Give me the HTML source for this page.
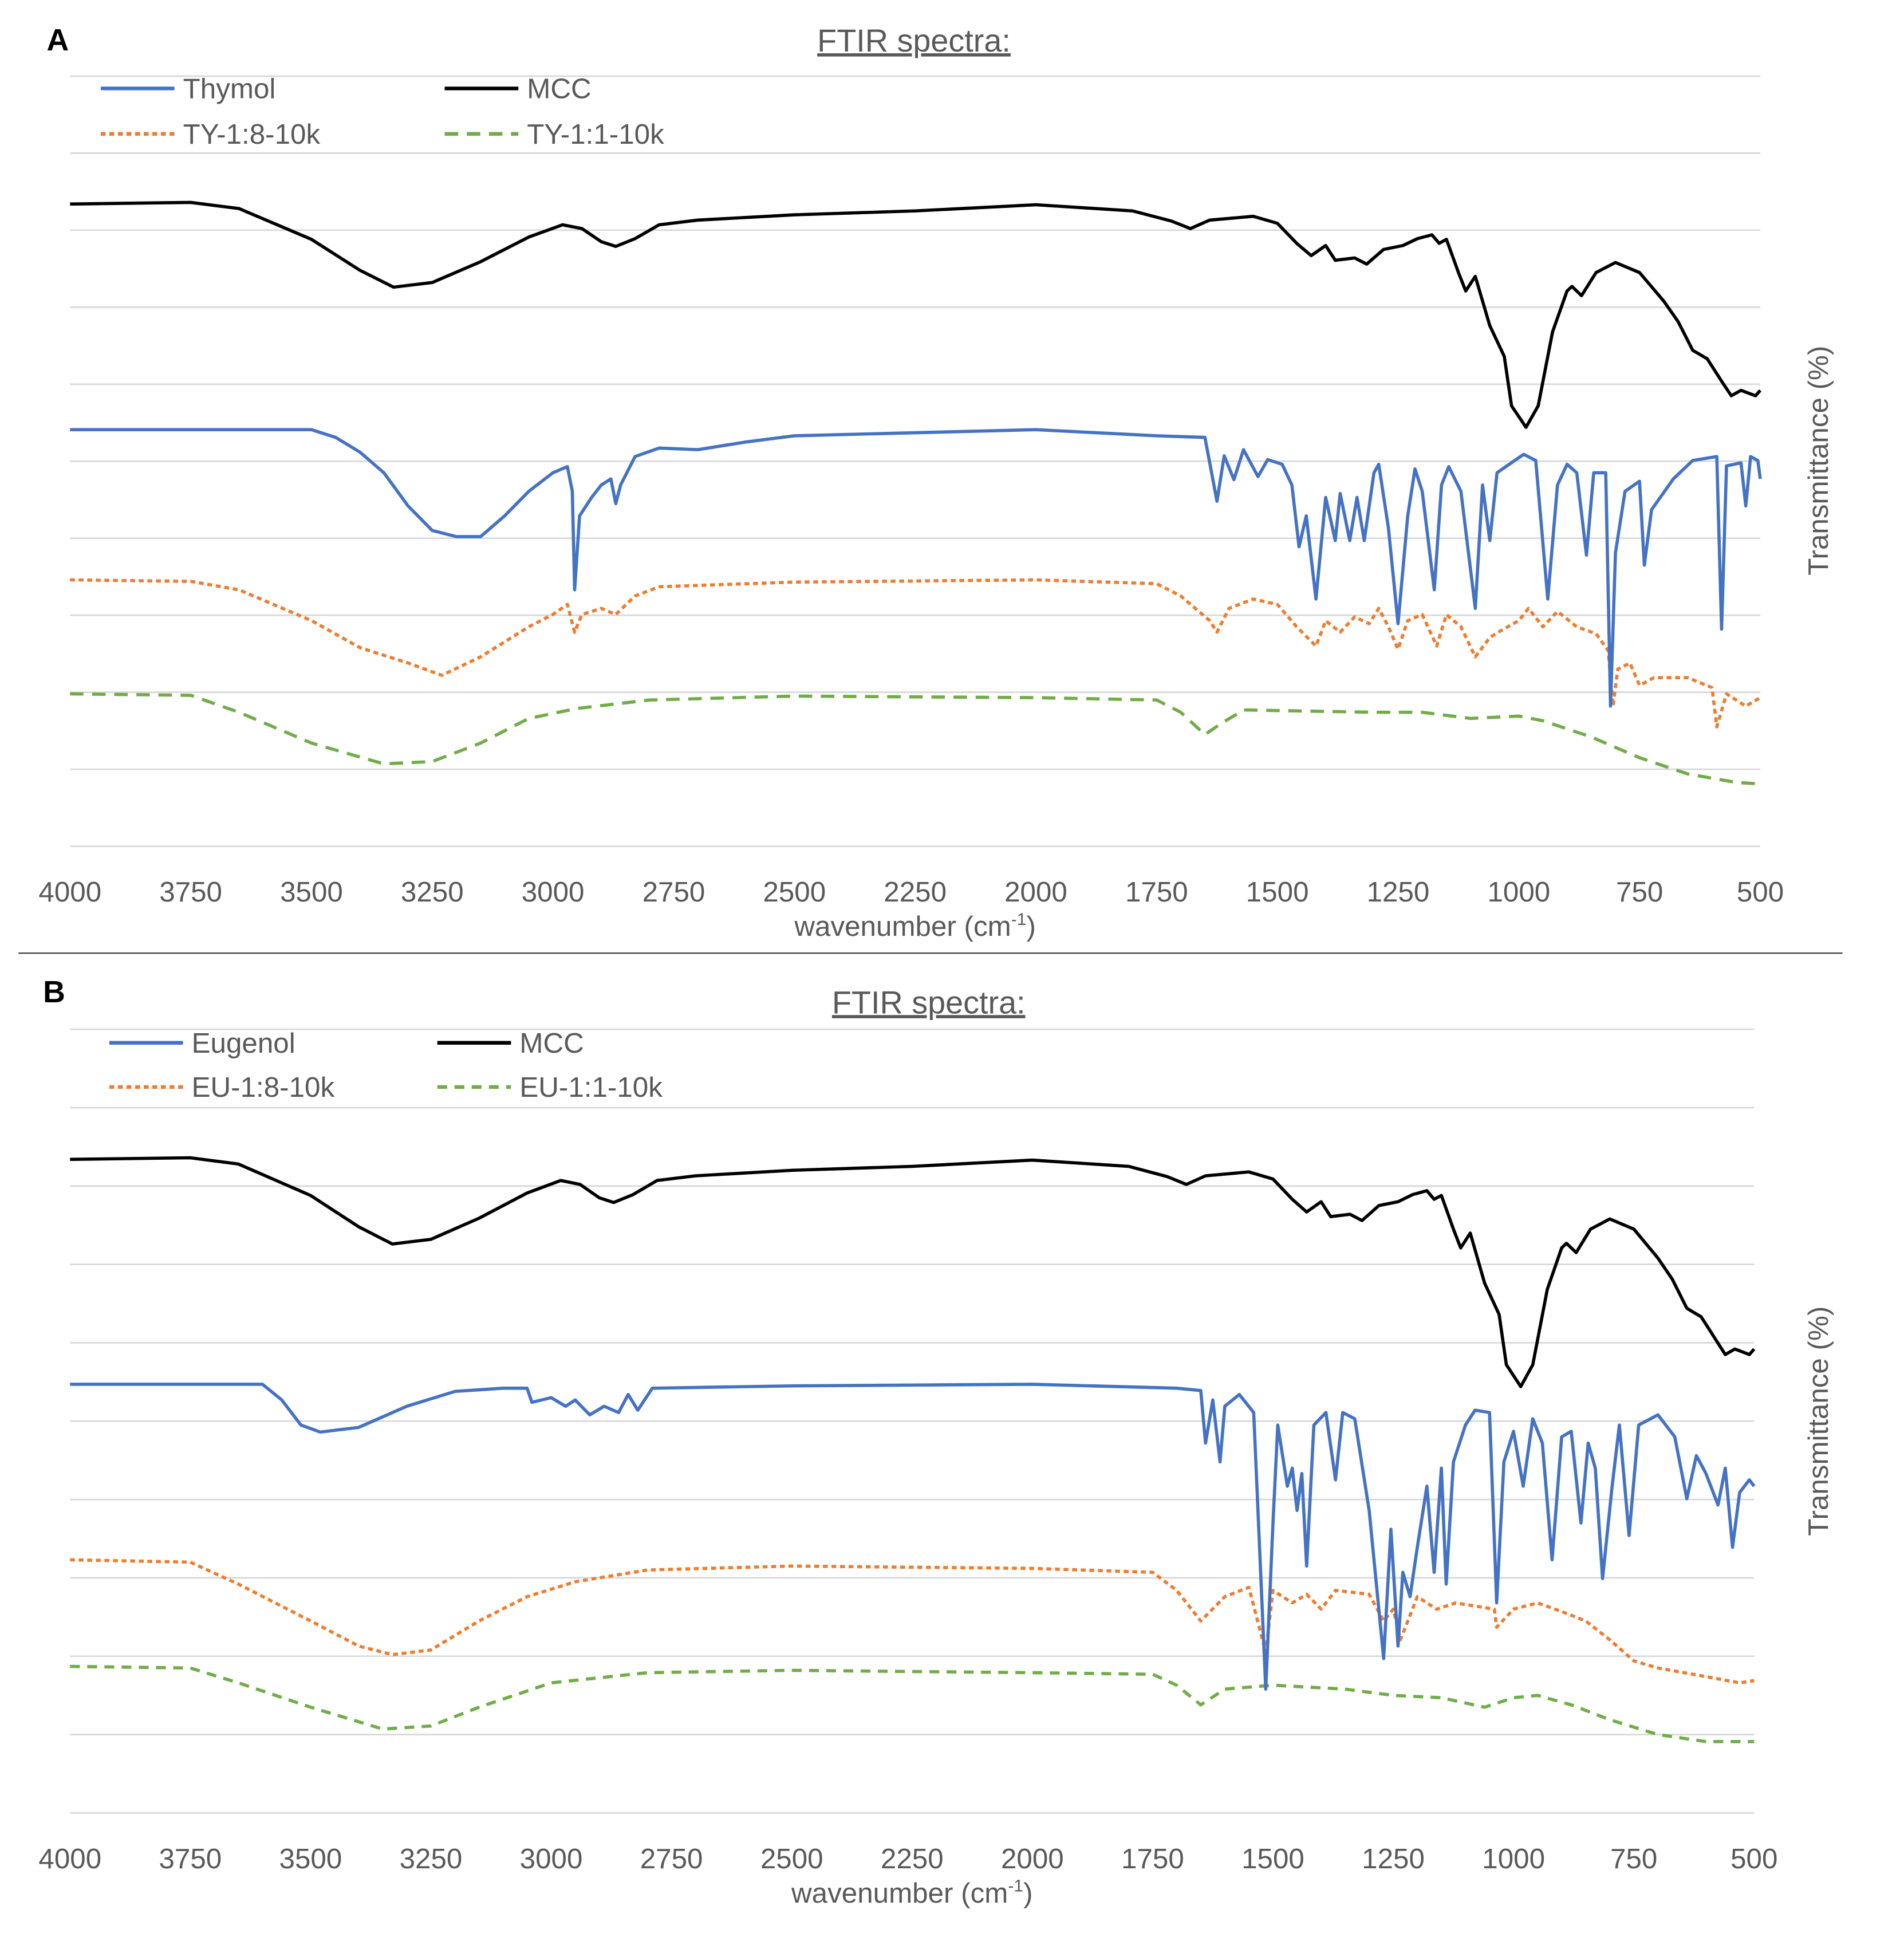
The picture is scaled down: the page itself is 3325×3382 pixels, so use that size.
<!DOCTYPE html>
<html><head><meta charset="utf-8"><style>
html,body{margin:0;padding:0;background:#fff;}
svg{display:block;}
text{font-family:"Liberation Sans",sans-serif;fill:#595959;}
</style></head><body>
<svg id="fig" width="3325" height="3382" viewBox="0 0 1550 1577" preserveAspectRatio="none" xmlns="http://www.w3.org/2000/svg">
<line x1="15" y1="776" x2="1500" y2="776" stroke="#333" stroke-width="1"/>
</svg>
<script>
const ticks=[4000,3750,3500,3250,3000,2750,2500,2250,2000,1750,1500,1250,1000,750,500];
const mcc=[[4000,83.4],[3750,83.6],[3650,82.8],[3500,78.8],[3400,74.8],[3330,72.6],[3250,73.2],[3150,75.9],[3050,79.1],[2980,80.7],[2940,80.2],[2900,78.5],[2870,77.9],[2830,78.9],[2780,80.7],[2700,81.3],[2500,82],[2250,82.5],[2000,83.3],[1800,82.5],[1720,81.2],[1680,80.2],[1640,81.3],[1550,81.8],[1500,80.9],[1460,78.3],[1430,76.7],[1400,78],[1380,76.1],[1340,76.4],[1315,75.6],[1280,77.5],[1240,78],[1210,78.9],[1180,79.4],[1165,78.3],[1150,78.8],[1125,74.5],[1110,72.1],[1090,74],[1060,67.6],[1030,63.6],[1015,57.2],[985,54.4],[960,57.2],[930,66.8],[900,72.1],[890,72.7],[870,71.5],[840,74.5],[800,75.8],[750,74.5],[700,70.8],[670,68.1],[640,64.4],[610,63.3],[580,60.4],[560,58.5],[540,59.2],[510,58.5],[500,59.2]];
const thymol=[[4000,54.1],[3500,54.1],[3450,53.1],[3400,51.2],[3350,48.5],[3300,44.2],[3250,41],[3200,40.2],[3150,40.2],[3100,42.9],[3050,46.1],[3000,48.5],[2970,49.3],[2960,46.1],[2955,33.3],[2945,42.9],[2920,45.3],[2900,46.9],[2880,47.7],[2870,44.5],[2860,46.9],[2830,50.6],[2780,51.7],[2700,51.5],[2600,52.5],[2500,53.3],[2250,53.7],[2000,54.1],[1750,53.3],[1650,53.1],[1625,44.8],[1610,50.7],[1590,47.6],[1570,51.5],[1540,48],[1520,50.2],[1490,49.6],[1470,46.9],[1455,38.9],[1440,42.9],[1420,32.1],[1400,45.3],[1380,39.7],[1370,45.8],[1350,39.7],[1335,45.3],[1320,39.7],[1300,48.5],[1290,49.6],[1270,41.3],[1250,28.9],[1230,42.9],[1215,49],[1200,46.1],[1175,33.3],[1160,46.9],[1145,49.3],[1120,46.1],[1090,30.9],[1075,46.9],[1060,39.7],[1045,48.5],[1020,49.6],[990,50.9],[965,50.1],[940,32.1],[920,46.9],[900,49.6],[880,48.5],[860,37.8],[845,48.5],[820,48.5],[810,18.2],[800,38.1],[780,46.1],[750,47.4],[740,36.5],[725,43.7],[680,47.7],[640,50.1],[590,50.6],[580,28.2],[570,49.4],[540,49.8],[530,44.2],[520,50.6],[505,50.1],[500,47.7]];
const ty18=[[4000,34.6],[3750,34.4],[3650,33.3],[3500,29.3],[3400,25.8],[3300,23.8],[3230,22.2],[3150,24.6],[3050,28.5],[3000,30.1],[2970,31.4],[2955,27.8],[2940,30.1],[2900,30.9],[2870,30.1],[2830,32.5],[2780,33.7],[2500,34.3],[2000,34.6],[1750,34.1],[1700,32.5],[1640,29.3],[1625,27.8],[1600,30.9],[1550,32.1],[1500,31.4],[1460,28.5],[1420,26],[1400,29.3],[1370,27.8],[1340,29.8],[1310,28.9],[1290,30.9],[1270,28.5],[1250,25.6],[1230,29.3],[1200,30.1],[1170,26],[1150,30.1],[1120,28.5],[1090,24.6],[1060,27.1],[1040,27.9],[1000,29.3],[980,30.9],[950,28.5],[920,30.5],[880,28.5],[840,27.6],[815,25.4],[805,18.2],[795,23],[770,23.8],[750,20.9],[720,21.9],[650,21.9],[600,20.6],[590,15.5],[570,19.8],[530,18.2],[500,19.3]];
const ty11=[[4000,19.8],[3750,19.6],[3650,17.4],[3500,13.4],[3350,10.7],[3250,11],[3150,13.4],[3050,16.6],[2950,17.9],[2800,19],[2500,19.5],[2000,19.3],[1750,19],[1700,17.4],[1650,14.5],[1620,15.8],[1570,17.7],[1300,17.4],[1200,17.4],[1100,16.6],[1000,16.9],[950,16.3],[850,14.2],[750,11.5],[650,9.4],[550,8.3],[500,8.1]];
const eugenol=[[4000,54.7],[3600,54.7],[3560,52.7],[3520,49.5],[3480,48.6],[3400,49.2],[3300,51.9],[3200,53.8],[3100,54.2],[3050,54.2],[3040,52.4],[3000,53],[2970,51.9],[2950,52.7],[2920,50.8],[2890,51.9],[2860,51.1],[2840,53.4],[2820,51.4],[2790,54.2],[2500,54.5],[2000,54.7],[1700,54.2],[1650,53.9],[1640,47.2],[1625,52.7],[1610,44.8],[1600,51.9],[1570,53.4],[1540,51.1],[1515,15.8],[1500,37],[1490,49.5],[1470,41.7],[1460,44],[1450,38.6],[1440,43.3],[1430,31.5],[1415,49.5],[1390,51.1],[1370,42.5],[1355,51.1],[1330,50.3],[1300,38.6],[1270,19.7],[1255,36.2],[1240,21.3],[1230,30.7],[1215,27.6],[1200,33.9],[1180,41.7],[1165,30.7],[1150,44],[1140,29.2],[1125,44.8],[1100,49.5],[1080,51.4],[1050,51.1],[1035,26.8],[1020,44.8],[1000,48.7],[980,41.7],[960,50.3],[940,47.2],[920,32.3],[900,48],[880,48.7],[860,37],[845,47.2],[830,44],[815,29.9],[795,41.7],[780,49.5],[760,35.4],[740,49.5],[700,50.8],[665,48],[640,40.1],[620,45.6],[600,43.3],[575,39.3],[560,44],[545,33.9],[530,40.9],[510,42.5],[500,41.7]];
const eu18=[[4000,32.3],[3750,32],[3650,29.2],[3500,24.5],[3400,21.3],[3330,20.2],[3250,20.8],[3150,24.5],[3050,27.6],[2950,29.5],[2800,31],[2500,31.5],[2000,31.2],[1750,30.7],[1700,28.4],[1650,24.5],[1600,27.6],[1550,28.8],[1515,20.5],[1500,28.4],[1460,26.8],[1430,27.9],[1400,26],[1370,28.4],[1300,27.9],[1270,24.5],[1250,26],[1235,22.1],[1200,27.6],[1160,26],[1120,26.8],[1040,26],[1035,23.7],[1000,26],[950,26.8],[900,25.7],[850,24.5],[800,22.1],[750,19.4],[700,18.5],[600,17.4],[530,16.6],[500,16.9]];
const eu11=[[4000,18.7],[3750,18.5],[3650,16.6],[3500,13.5],[3350,10.7],[3250,11.1],[3150,13.5],[3000,16.6],[2800,17.9],[2500,18.2],[2000,17.9],[1750,17.7],[1700,16.3],[1650,13.8],[1600,15.8],[1500,16.3],[1350,15.8],[1250,15],[1150,14.7],[1060,13.5],[1000,14.7],[950,15],[880,13.8],[800,11.9],[700,10],[600,9.1],[500,9.1]];

const NS="http://www.w3.org/2000/svg";
const svg=document.getElementById('fig');
function mk(tag,attrs,parent){const e=document.createElementNS(NS,tag);for(const k in attrs)e.setAttribute(k,attrs[k]);(parent||svg).appendChild(e);return e;}
function panel(p){
  const g=mk('g',{});
  
  
  const xs=w=>p.x0+(4000-w)/3500*(p.x1-p.x0);
  const ys=v=>p.yb-v/100*(p.yb-p.yt);
  for(let i=0;i<=10;i++){
    const l=mk('line',{x1:p.x0,x2:p.x1,y1:ys(i*10),y2:ys(i*10),stroke:'#d9d9d9','stroke-width':1.3},g);
    
    
  }
  ticks.forEach(t=>{
    const tx=mk('text',{x:xs(t),y:p.yb+45,'font-size':23,'text-anchor':'middle'},g);tx.textContent=t;
    
    
  });
  const xl=mk('text',{x:(p.x0+p.x1)/2,y:p.yb+73,'font-size':23,'text-anchor':'middle'},g);
  xl.innerHTML='wavenumber (cm<tspan font-size="14" dy="-9">-1</tspan><tspan dy="9">)</tspan>';
  
  
  const yl=mk('text',{x:0,y:0,'font-size':23,'text-anchor':'middle',transform:`translate(${p.ytx},${p.yty}) rotate(-90)`},g);
  yl.textContent='Transmittance (%)';
  
  
  const ti=mk('text',{x:p.tx,y:p.ty,'font-size':26,'text-anchor':'middle','text-decoration':'underline'},g);
  ti.textContent='FTIR spectra:';
  
  
  const lb=mk('text',{x:p.lx,y:p.ly,'font-size':25,'font-weight':'bold',style:'fill:#000'},g);
  lb.textContent=p.id;
  
  
  p.series.forEach(s=>{
    const d=s.data.map((pt,i)=>(i?'L':'M')+xs(pt[0]).toFixed(1)+' '+ys(pt[1]).toFixed(1)).join(' ');
    const pa=mk('path',{d:d,fill:'none',stroke:s.color,'stroke-width':2.6,'stroke-dasharray':s.dash,'stroke-linejoin':'round'},g);
    
    
    const lg=mk('g',{},g);
    
    
    mk('line',{x1:s.lx,x2:s.lx+60,y1:s.ly,y2:s.ly,stroke:s.color,'stroke-width':3,'stroke-dasharray':s.dash},lg);
    const t=mk('text',{x:s.lx+67,y:s.ly+8,'font-size':23},lg);t.textContent=s.name;
  });
}
panel({id:'A',x0:57,x1:1433,yt:62,yb:689,ytx:1488,yty:375,tx:744,ty:42,lx:38,ly:41,series:[
 {key:'ty-1-1',name:'TY-1:1-10k',data:ty11,color:'#70AD47',dash:'11 7',lx:362,ly:109},
 {key:'ty-1-8',name:'TY-1:8-10k',data:ty18,color:'#ED7D31',dash:'4 3',lx:82,ly:109},
 {key:'thymol',name:'Thymol',data:thymol,color:'#4472C4',dash:'none',lx:82,ly:72},
 {key:'mcc',name:'MCC',data:mcc,color:'#000000',dash:'none',lx:362,ly:72}]});
panel({id:'B',x0:57,x1:1428,yt:838,yb:1476,ytx:1488,yty:1157,tx:756,ty:825,lx:35,ly:816,series:[
 {key:'eu-1-1',name:'EU-1:1-10k',data:eu11,color:'#70AD47',dash:'8 6',lx:356,ly:885},
 {key:'eu-1-8',name:'EU-1:8-10k',data:eu18,color:'#ED7D31',dash:'4 3',lx:89,ly:885},
 {key:'eugenol',name:'Eugenol',data:eugenol,color:'#4472C4',dash:'none',lx:89,ly:849},
 {key:'mcc-b',name:'MCC',data:mcc,color:'#000000',dash:'none',lx:356,ly:849}]});
</script>
</body></html>
